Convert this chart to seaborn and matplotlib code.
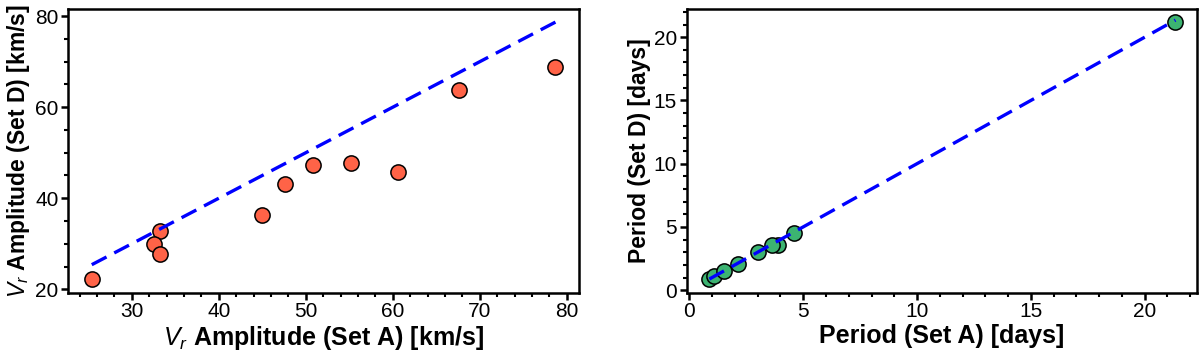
import numpy as np
import pandas as pd
import matplotlib
matplotlib.use("Agg")
import matplotlib.pyplot as plt
import seaborn as sns
from matplotlib.ticker import MultipleLocator

# amplitude values (km/s)
amp_a = [25.4, 33.2, 32.6, 33.2, 45.0, 47.6, 50.8, 55.2, 60.6, 67.6, 78.7]
amp_d = [22.2, 32.8, 29.9, 27.75, 36.3, 43.2, 47.2, 47.7, 45.8, 63.8, 68.9]

# period values (days)
per_a = [0.88, 1.09, 1.53, 2.12, 3.0, 3.88, 3.63, 4.59, 21.35]
per_d = [0.9, 1.1, 1.5, 2.08, 3.0, 3.6, 3.55, 4.53, 21.2]

amp = pd.DataFrame({'A': amp_a, 'D': amp_d})
per = pd.DataFrame({'A': per_a, 'D': per_d})

sns.set_style('ticks')
plt.rcParams['font.family'] = ['Liberation Sans', 'DejaVu Sans']
plt.rcParams['mathtext.fontset'] = 'custom'
plt.rcParams['mathtext.rm'] = 'Liberation Sans'
plt.rcParams['mathtext.it'] = 'Liberation Sans:italic'
plt.rcParams['text.color'] = 'black'
plt.rcParams['axes.labelcolor'] = 'black'

fig = plt.figure(figsize=(12, 3.6), dpi=100)
ax1 = fig.add_axes([0.0569, 0.187, 0.4259, 0.787])
ax2 = fig.add_axes([0.5722, 0.187, 0.4250, 0.787])

XL = 18
YL = 16.5


def one_to_one(ax, df):
    lo, hi = df['A'].min(), df['A'].max()
    sns.lineplot(x=[lo, hi], y=[lo, hi], ax=ax, color='#0000FF', lw=2.4,
                 dashes=False, zorder=3)
    ax.lines[-1].set_dashes((5, 2.6))


sns.scatterplot(data=amp, x='A', y='D', ax=ax1, color='#FF6347', s=120,
                edgecolor='black', linewidth=1.1, zorder=2)
one_to_one(ax1, amp)
ax1.set_xlim(22.7, 81.45)
ax1.set_ylim(19.25, 81.5)
ax1.xaxis.set_major_locator(MultipleLocator(10))
ax1.xaxis.set_minor_locator(MultipleLocator(2))
ax1.yaxis.set_major_locator(MultipleLocator(20))
ax1.yaxis.set_minor_locator(MultipleLocator(5))
ax1.set_xlabel(r'$V_r$ Amplitude (Set A) [km/s]', fontsize=XL, fontweight='bold', labelpad=2)
ax1.set_ylabel(r'$V_r$ Amplitude (Set D) [km/s]', fontsize=YL, fontweight='bold', labelpad=2)

sns.scatterplot(data=per, x='A', y='D', ax=ax2, color='#3CB371', s=120,
                edgecolor='black', linewidth=1.1, zorder=2)
one_to_one(ax2, per)
ax2.set_xlim(-0.12, 22.28)
ax2.set_ylim(-0.2, 22.2)
ax2.xaxis.set_major_locator(MultipleLocator(5))
ax2.xaxis.set_minor_locator(MultipleLocator(1))
ax2.yaxis.set_major_locator(MultipleLocator(5))
ax2.yaxis.set_minor_locator(MultipleLocator(1))
ax2.set_xlabel('Period (Set A) [days]', fontsize=XL, fontweight='bold', labelpad=2)
ax2.set_ylabel('Period (Set D) [days]', fontsize=YL, fontweight='bold', labelpad=2)

for ax in (ax1, ax2):
    for sp in ax.spines.values():
        sp.set_linewidth(1.8)
        sp.set_color('black')
    ax.tick_params(which='major', direction='out', length=5, width=1.8,
                   labelsize=15, colors='black', pad=2)
    ax.tick_params(which='minor', direction='out', length=3, width=1.5,
                   colors='black')

fig.savefig('out.png', dpi=100)
